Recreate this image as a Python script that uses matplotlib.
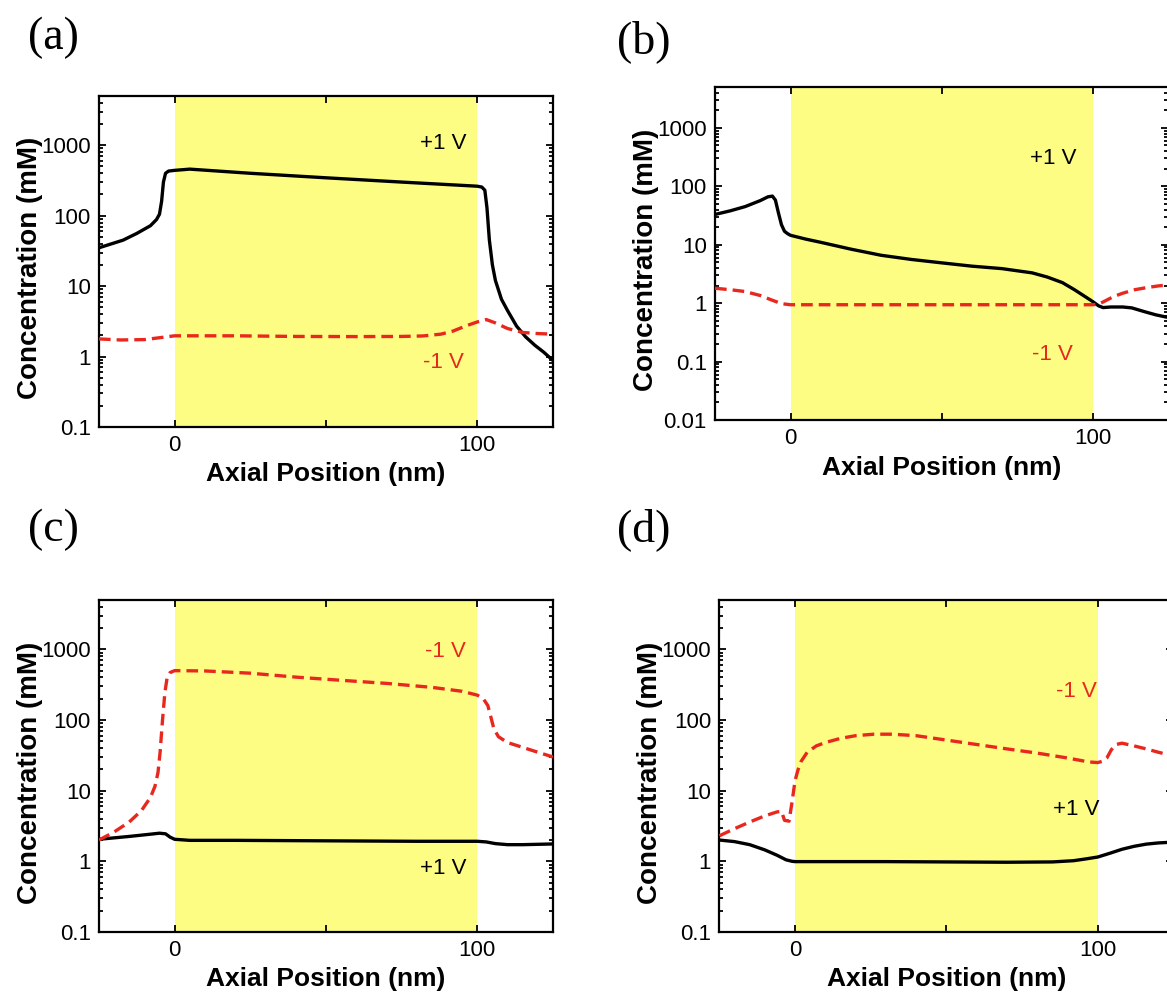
import numpy as np
import matplotlib.pyplot as plt
from matplotlib.ticker import FixedLocator, FixedFormatter, LogLocator, NullFormatter

plt.rcParams['font.family'] = ['Liberation Sans', 'DejaVu Sans']

# (a) concentration profiles, +1 V (solid) and -1 V (dashed)
a_pos_x = [-25, -17, -12.5, -8, -6, -5, -4.3, -3.7, -3, -2, 0, 5, 25, 50, 75, 98, 100, 101.5,
           102.5, 103.2, 104, 105, 106, 108, 110, 113, 116, 119, 122, 125]
a_pos_y = [35, 45, 56, 72, 88, 105, 160, 300, 400, 430, 440, 458, 400, 345, 300, 265, 262, 255,
           230, 130, 45, 20, 12, 6.5, 4.5, 2.7, 1.9, 1.45, 1.15, 0.88]
a_neg_x = [-25, -18, -10, -5, 0, 20, 40, 60, 75, 82, 88, 92, 96, 100, 103, 106, 110, 115, 120, 125]
a_neg_y = [1.78, 1.72, 1.74, 1.85, 1.97, 1.97, 1.93, 1.92, 1.93, 1.96, 2.08, 2.3, 2.7, 3.1, 3.35,
           3.0, 2.5, 2.2, 2.12, 2.08]

# (b)
b_pos_x = [-25, -20, -15, -10, -7.5, -6, -5, -4, -3, -2, -1, 0, 5, 10, 20, 30, 40, 50, 60, 70, 80,
           85, 90, 94, 97, 100, 102, 103.5, 106, 110, 113, 117, 121, 125]
b_pos_y = [33, 38, 45, 57, 66, 68, 58, 35, 22, 17, 15.5, 14.5, 12.5, 11, 8.4, 6.6, 5.6, 4.9, 4.3,
           3.9, 3.3, 2.8, 2.25, 1.7, 1.35, 1.07, 0.9, 0.84, 0.86, 0.86, 0.83, 0.72, 0.63, 0.57]
b_neg_x = [-25, -20, -15, -10, -6, -3, 0, 20, 40, 60, 80, 100, 102, 104, 107, 110, 114, 118, 122, 125]
b_neg_y = [1.8, 1.7, 1.58, 1.35, 1.12, 0.98, 0.94, 0.94, 0.94, 0.94, 0.94, 0.94, 0.96, 1.08, 1.3,
           1.48, 1.7, 1.85, 1.98, 2.05]

# (c)
c_pos_x = [-25, -15, -8, -5, -3, -1.5, 0, 5, 20, 40, 60, 80, 100, 103, 106, 110, 115, 120, 125]
c_pos_y = [2.05, 2.25, 2.42, 2.5, 2.45, 2.2, 2.05, 1.98, 1.98, 1.96, 1.94, 1.92, 1.92, 1.88, 1.78,
           1.72, 1.72, 1.74, 1.76]
c_neg_x = [-25, -20, -15, -11, -8, -6.5, -5.5, -4.8, -4, -3.2, -2.5, -1.5, 0, 10, 25, 40, 55, 70,
           85, 95, 100, 102, 103.5, 104.5, 105.5, 107, 110, 115, 120, 125]
c_neg_y = [2.0, 2.6, 3.6, 5.2, 8, 11.5, 18, 35, 100, 250, 390, 470, 500, 495, 460, 405, 365, 330,
           290, 255, 225, 200, 160, 110, 75, 58, 48, 41, 35, 30]

# (d)
d_pos_x = [-25, -20, -15, -10, -6, -3, -1, 0, 10, 30, 50, 70, 85, 92, 96, 100, 104, 108, 112, 116,
           120, 125]
d_pos_y = [2.0, 1.9, 1.72, 1.45, 1.22, 1.05, 1.0, 0.99, 0.99, 0.99, 0.98, 0.97, 0.98, 1.02, 1.08,
           1.15, 1.3, 1.48, 1.63, 1.75, 1.82, 1.87]
d_neg_x = [-25, -20, -15, -10, -6, -4.5, -3.5, -2, -1, 0, 1, 2, 4, 7, 10, 15, 20, 26, 32, 40, 50,
           60, 70, 80, 90, 97, 100, 101.5, 103, 104.5, 106, 108, 112, 116, 120, 125]
d_neg_y = [2.3, 2.9, 3.6, 4.4, 5.0, 5.1, 3.8, 3.7, 7, 14, 20, 26, 35, 43, 48, 55, 60, 63, 63, 60,
           52, 45, 39, 34, 29, 25.5, 25, 26, 29, 38, 45, 47, 43, 39, 35, 31]

RED = '#e8281e'
YELLOW = '#fdfd84'

panels = [
    dict(tag='(a)', rect=[0.0848, 0.5713, 0.389, 0.3323], ylim=(0.1, 5000),
         pos=(a_pos_x, a_pos_y), neg=(a_neg_x, a_neg_y),
         pos_lab=(88.8, 1050), neg_lab=(88.8, 0.83), tag_xy=(0.024, 0.962)),
    dict(tag='(b)', rect=[0.6127, 0.5783, 0.3882, 0.3343], ylim=(0.01, 5000),
         pos=(b_pos_x, b_pos_y), neg=(b_neg_x, b_neg_y),
         pos_lab=(86.9, 297), neg_lab=(86.6, 0.13), tag_xy=(0.529, 0.958)),
    dict(tag='(c)', rect=[0.0848, 0.0643, 0.389, 0.3333], ylim=(0.1, 5000),
         pos=(c_pos_x, c_pos_y), neg=(c_neg_x, c_neg_y),
         pos_lab=(88.8, 0.79), neg_lab=(89.4, 920), tag_xy=(0.024, 0.468)),
    dict(tag='(d)', rect=[0.6165, 0.0643, 0.389, 0.3333], ylim=(0.1, 5000),
         pos=(d_pos_x, d_pos_y), neg=(d_neg_x, d_neg_y),
         pos_lab=(92.8, 5.4), neg_lab=(92.8, 250), tag_xy=(0.529, 0.468)),
]

fig = plt.figure(figsize=(11.67, 9.96), dpi=100)

for p in panels:
    ax = fig.add_axes(p['rect'])
    ax.axvspan(0, 100, color=YELLOW, lw=0, zorder=0)
    ax.plot(*p['pos'], color='black', lw=2.4, zorder=3)
    ax.plot(*p['neg'], color=RED, lw=2.4, ls=(0, (3.5, 1.8)), zorder=3)

    ax.set_yscale('log')
    ax.set_xlim(-25, 125)
    ax.set_ylim(*p['ylim'])

    ax.xaxis.set_major_locator(FixedLocator([0, 50, 100]))
    ax.xaxis.set_major_formatter(FixedFormatter(['0', '', '100']))
    ax.yaxis.set_major_locator(LogLocator(base=10, numticks=10))
    ax.yaxis.set_minor_locator(LogLocator(base=10, subs=np.arange(2, 10), numticks=20))
    ax.yaxis.set_minor_formatter(NullFormatter())
    ax.yaxis.set_major_formatter(plt.FuncFormatter(lambda v, _: f'{v:g}'))

    ax.tick_params(which='both', direction='in', top=True, right=True, width=1.3)
    ax.tick_params(which='major', length=5, labelsize=16, pad=6)
    ax.tick_params(which='minor', length=3)
    for s in ax.spines.values():
        s.set_linewidth(1.6)

    ax.set_xlabel('Axial Position (nm)', fontsize=19, fontweight='bold', va='center')
    ax.set_ylabel('Concentration (mM)', fontsize=20, fontweight='bold', va='center')
    ax.xaxis.set_label_coords(0.5, -0.143)
    ax.yaxis.set_label_coords(-0.153, 0.48)

    ax.text(*p['pos_lab'], '+1 V', fontsize=16, color='black', ha='center', va='center')
    ax.text(*p['neg_lab'], '-1 V', fontsize=16, color=RED, ha='center', va='center')

    fig.text(*p['tag_xy'], p['tag'], fontsize=33, family=['Liberation Serif', 'DejaVu Serif'],
             ha='left', va='center')

fig.savefig('out.png', dpi=100)
